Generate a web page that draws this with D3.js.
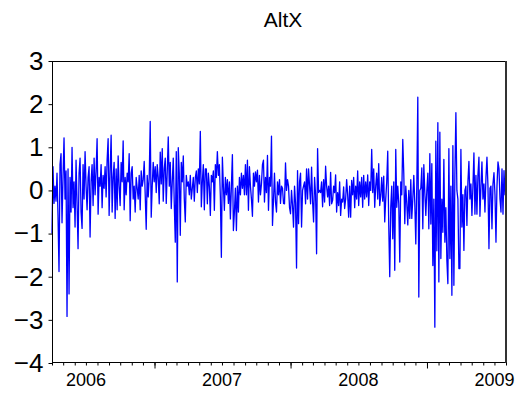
<!DOCTYPE html>
<html>
<head>
<meta charset="utf-8">
<script src="https://cdn.jsdelivr.net/npm/d3@7"></script>
<style>
  body { margin: 0; background: #fff; }
  svg text { font-family: "Liberation Sans", Arial, sans-serif; fill: #000; }
</style>
</head>
<body>
<script>
// AltX, daily, Apr 2006 - Jul 2009 (left to right)
var altxApr06 = [-1.0,0.55,-0.3,0.1,-0.25,0.4,-0.6,-1.88,0.6,0.85,
  -0.75,0.3,1.22,-0.2,0.45,-2.92,0.5,-2.4,0.3,-0.5,
  1.0,-0.4,0.2,-0.85,0.7,-0.3,-1.35,0.4,0.75,-0.5,
  -0.88,0.6,-0.2,0.9,0.1,-0.45,0.3,0.55,-1.08,0.2,
  0.6,-0.35,0.75,-0.1,0.45,1.2,-0.55,0.3,0.1,0.6,
  -0.4,0.35,0.05,0.55,-0.15,0.7,1.2,-0.58,0.45,1.28,
  -0.5,0.3,0.65,-0.65,0.5,-0.45,0.8,0.1,-0.35,0.65,
  0.2,1.15,-0.45,0.3,-0.1,0.4];
var altxOct06 = [0.2,0.85,-0.7,0.4,0.55,-0.2,0.1,-0.5,0.3,0.05,
  -0.2,0.35,-0.45,0.45,0.1,0.25,0.67,-0.1,-0.9,0.35,
  -0.15,0.3,1.6,-0.62,0.1,0.65,0.2,0.55,-0.05,0.6,
  0.3,-0.31,0.89,0.15,0.97,-0.25,0.5,0.75,-0.3,0.45,
  1.24,0.1,0.65,-0.42,0.2,0.75,-0.3,-1.2,0.9,-2.12,
  0.99,0.4,-1.04,0.65,0.2,0.8,-0.2,-0.73,0.35,0.1,
  0.2,-0.1,0.35,-0.2,0.05,0.3,-0.25,0.3,0.45,-0.05,
  0.5,0.15,1.37,-0.38,0.2,0.6,-0.45,0.5];
var altxMay07 = [0.5,-0.31,0.4,0.1,-0.58,0.35,0.2,0.45,-0.46,0.6,
  0.3,0.9,0.35,0.6,-0.15,-1.55,0.77,0.1,-0.46,0.3,
  -0.1,0.25,-0.3,0.2,-0.66,0.1,0.83,-0.93,-0.5,0.05,
  -0.93,0.1,-0.5,0.3,-0.1,0.4,0.05,0.35,-0.1,0.6,
  -0.1,0.7,-0.46,0.55,0.1,-0.2,-0.6,0.4,0.1,0.43,
  0.2,0.47,-0.27,0.35,-0.1,0.15,0.6,0.7,-0.27,0.3,
  -0.05,0.81,-0.46,0.3,0.1,1.26,-0.81,-0.23,0.4,-0.27,
  -0.5,0.2,-0.1,0.25,-0.3,0.1,0.05,-0.3];
var altxDec07 = [-0.31,0.64,0.0,0.25,0.1,-0.4,-0.54,0.0,-0.35,-0.85,
  0.1,-0.3,-1.8,0.46,-0.77,0.2,0.4,-0.85,0.0,0.1,
  0.2,-0.31,0.5,-0.2,0.5,0.1,-0.31,0.54,-0.25,-0.73,
  0.3,-0.1,-1.47,0.97,-0.05,0.0,-0.05,0.2,-0.38,0.25,
  -0.27,0.56,0.1,-0.15,0.1,-0.35,0.42,-0.31,-0.23,0.1,
  -0.05,0.36,-0.5,-0.05,-0.35,0.2,-0.58,-0.2,-0.27,0.08,
  -0.42,-0.2,0.25,-0.1,-0.62,0.1,-0.62,0.23,-0.1,0.3,
  -0.4,0.1,-0.2,0.45,-0.35,0.2,-0.15,0.3];
var altxJul08 = [-0.39,0.35,-0.2,0.2,-0.15,0.36,-0.35,0.2,0.0,0.95,
  -0.05,0.5,-0.39,0.1,0.4,-0.2,0.62,-0.35,-0.12,0.3,
  -0.25,0.33,-0.73,-0.2,0.2,0.91,-0.8,-2.0,-0.4,0.1,
  -1.12,0.2,-1.85,0.95,-0.39,0.1,-0.3,-1.66,0.2,-0.1,
  1.18,0.4,-0.77,0.1,-0.3,-0.8,0.0,-0.65,0.25,-0.65,
  -0.2,0.35,-0.3,-1.24,0.1,2.16,-2.47,0.0,0.05,0.52,
  -0.89,0.6,-0.05,-0.58,0.0,0.4,-0.89,0.85,-0.78,0.62,
  -1.74,-0.2,-3.17,1.14,-1.4,1.57,-2.12,1.35];
var altxFeb09 = [-1.58,-0.2,-0.97,0.72,-1.2,-0.4,-1.62,-2.16,0.97,-1.58,
  0.1,-2.43,1.04,-2.2,0.35,1.8,0.0,-0.2,-1.81,-1.81,
  0.95,-0.85,-0.1,-1.39,0.0,0.1,-0.81,0.2,0.67,-0.2,
  0.15,-0.58,0.1,0.87,-0.55,0.35,-0.55,0.35,0.77,-0.6,
  0.1,0.66,-0.2,0.15,-0.5,0.3,0.77,0.1,-1.35,0.05,
  0.1,-0.89,0.15,0.41,-0.1,-1.2,0.1,0.66,0.5,-0.2,
  -0.5,0.5,-0.55,0.46,-0.1,0.3];

var startDate = new Date(2006, 3, 1),
    endDate = new Date(2009, 7, 1);
var yTicks = [-4, -3, -2, -1, 0, 1, 2, 3];
var yearLabels = ["2006", "2007", "2008", "2009"];

var values = [].concat(altxApr06, altxOct06, altxMay07, altxDec07, altxJul08, altxFeb09);
var step = (endDate - startDate) / (values.length - 1);
var data = values.map(function (v, i) {
  return { date: new Date(+startDate + i * step), value: v };
});

var W = 518, H = 398,
    margin = {top: 61, right: 12, bottom: 35, left: 52};

var svg = d3.select("body").append("svg")
    .attr("width", W)
    .attr("height", H);

var x = d3.scaleTime()
    .domain([startDate, endDate])
    .range([margin.left, W - margin.right]);

var y = d3.scaleLinear()
    .domain([-4, 3])
    .range([H - margin.bottom, margin.top]);

// title
svg.append("text")
    .attr("x", 283)
    .attr("y", 27)
    .attr("text-anchor", "middle")
    .style("font-size", "21px")
    .text("AltX");

// series
var line = d3.line()
    .x(function (d) { return x(d.date); })
    .y(function (d) { return y(d.value); });

svg.append("path")
    .datum(data)
    .attr("fill", "none")
    .attr("stroke", "#0000ff")
    .attr("stroke-width", 1.3)
    .attr("stroke-linejoin", "round")
    .attr("d", line);

// frame
svg.append("rect")
    .attr("x", margin.left + 0.5)
    .attr("y", margin.top + 0.5)
    .attr("width", W - margin.left - margin.right - 1)
    .attr("height", H - margin.bottom - margin.top - 1)
    .attr("fill", "none")
    .attr("stroke", "#000")
    .attr("stroke-width", 1);

// right edge is a little heavier in the original
svg.append("line")
    .attr("x1", W - margin.right).attr("x2", W - margin.right)
    .attr("y1", margin.top).attr("y2", H - margin.bottom)
    .attr("stroke", "#333")
    .attr("stroke-width", 2);

// y axis
var yAxis = svg.append("g")
    .attr("transform", "translate(" + (margin.left + 0.5) + ",0)")
    .call(d3.axisLeft(y).tickValues(yTicks).tickSize(4).tickPadding(5).tickFormat(d3.format("d")));
yAxis.select(".domain").remove();
yAxis.selectAll("text")
    .style("font-size", "26px")
    .attr("font-family", null);

// x axis: monthly minor ticks, yearly major ticks
var xAxisG = svg.append("g")
    .attr("transform", "translate(0," + (H - margin.bottom - 0.5) + ")");
xAxisG.call(d3.axisBottom(x).ticks(d3.timeMonth.every(1)).tickSize(3).tickFormat(""));
xAxisG.select(".domain").remove();

var majorG = svg.append("g")
    .attr("transform", "translate(0," + (H - margin.bottom - 0.5) + ")");
majorG.call(d3.axisBottom(x).ticks(d3.timeYear.every(1)).tickSize(6).tickFormat(""));
majorG.select(".domain").remove();

// year labels centred on mid-year
svg.selectAll(".year")
    .data(yearLabels)
    .enter().append("text")
    .attr("class", "year")
    .attr("x", function (d) { return x(new Date(+d, 6, 1)); })
    .attr("y", H - margin.bottom + 23)
    .attr("text-anchor", "middle")
    .style("font-size", "18px")
    .text(function (d) { return d; });
</script>
</body>
</html>
